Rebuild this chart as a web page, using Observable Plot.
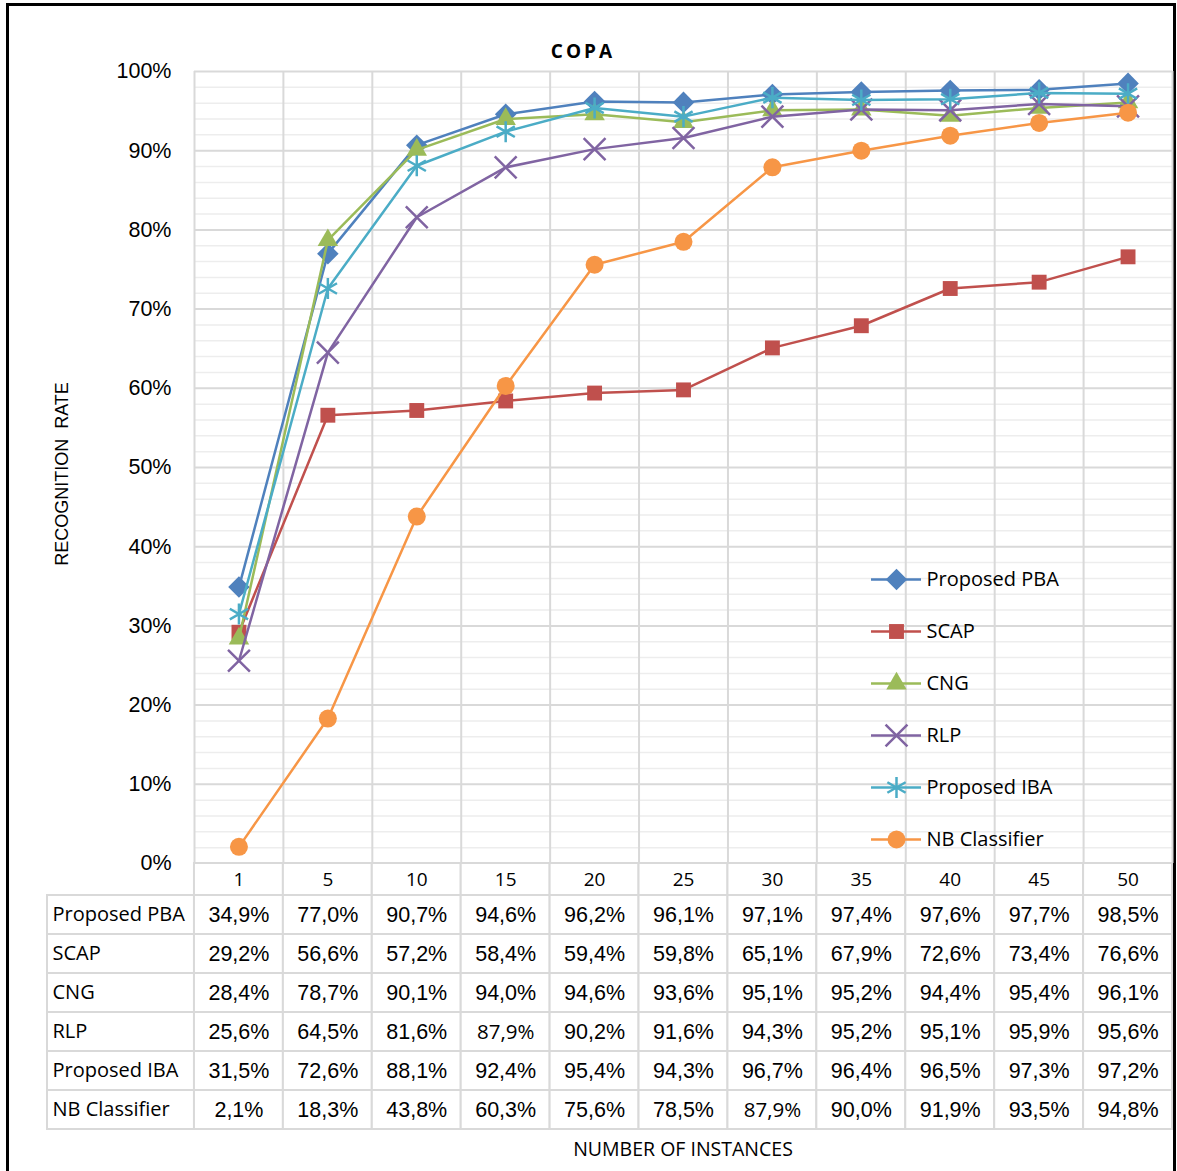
<!DOCTYPE html>
<html>
<head>
<meta charset="utf-8">
<script src="https://cdn.jsdelivr.net/npm/d3@7"></script>
<script src="https://cdn.jsdelivr.net/npm/@observablehq/plot@0.6"></script>
<style>
  html, body { margin: 0; padding: 0; background: #fff; overflow: hidden; }
  #root { position: relative; width: 1177px; height: 1171px; }
  #frame { position: absolute; left: 6px; top: 3px; width: 1164px; height: 1200px; border: 3px solid #000; box-sizing: content-box; }
  .abs { position: absolute; }
  #title { left: 483px; width: 200px; top: 38px; text-align: center; font: bold 19px "Open Sans", sans-serif; letter-spacing: 3px; color: #000; }
  #ytitle { left: 62px; top: 474px; transform: translate(-50%, -50%) rotate(-90deg); white-space: pre; font: 18px "Liberation Sans", Arial, sans-serif; color: #000; }
  #xtitle { left: 433px; width: 500px; top: 1135px; text-align: center; font: 19.5px "Open Sans", sans-serif; color: #000; }
</style>
</head>
<body>
<div id="root">
  <div id="frame"></div>
  <div id="chart" class="abs" style="left:0;top:0"></div>
  <div id="table" class="abs" style="left:0;top:860px"></div>
  <div id="legend" class="abs" style="left:871px;top:560px"></div>
  <div id="title" class="abs">COPA</div>
  <div id="ytitle" class="abs">RECOGNITION  RATE</div>
  <div id="xtitle" class="abs">NUMBER OF INSTANCES</div>
</div>
<script>
// ---- Data ----
const categories = ["1", "5", "10", "15", "20", "25", "30", "35", "40", "45", "50"];
const seriesNames = ["Proposed PBA", "SCAP", "CNG", "RLP", "Proposed IBA", "NB Classifier"];
const proposedPBA  = [34.9, 77.0, 90.7, 94.6, 96.2, 96.1, 97.1, 97.4, 97.6, 97.7, 98.5];
const scap         = [29.2, 56.6, 57.2, 58.4, 59.4, 59.8, 65.1, 67.9, 72.6, 73.4, 76.6];
const cng          = [28.4, 78.7, 90.1, 94.0, 94.6, 93.6, 95.1, 95.2, 94.4, 95.4, 96.1];
const rlp          = [25.6, 64.5, 81.6, 87.9, 90.2, 91.6, 94.3, 95.2, 95.1, 95.9, 95.6];
const proposedIBA  = [31.5, 72.6, 88.1, 92.4, 95.4, 94.3, 96.7, 96.4, 96.5, 97.3, 97.2];
const nbClassifier = [2.1, 18.3, 43.8, 60.3, 75.6, 78.5, 87.9, 90.0, 91.9, 93.5, 94.8];
const yTicks = [0, 0.1, 0.2, 0.3, 0.4, 0.5, 0.6, 0.7, 0.8, 0.9, 1.0];

// ---- Styles ----
const seriesValues = [proposedPBA, scap, cng, rlp, proposedIBA, nbClassifier];
const colors = ["#4F81BD", "#C0504D", "#9BBB59", "#8064A2", "#4BACC6", "#F79646"];
const markers = [
  {symbol: "square", r: 8.6, rotate: 45, filled: true},
  {symbol: "square", r: 8.4, rotate: 0, filled: true},
  {symbol: "triangle", r: 7.6, rotate: 0, filled: true},
  {symbol: "times", r: 10, rotate: 0, filled: false},
  {symbol: "asterisk", r: 10, rotate: 0, filled: false},
  {symbol: "circle", r: 9, rotate: 0, filled: true}
];
const smallCells = new Set(["RLP|15", "NB Classifier|30"]);

const rows = [];
seriesNames.forEach((s, si) => {
  seriesValues[si].forEach((v, i) => rows.push({series: s, si, cat: categories[i], i, v}));
});

const numFont = '"Liberation Sans", Arial, sans-serif';
const lblFont = '"Open Sans", sans-serif';
const fmt = v => v.toFixed(1).replace(".", ",") + "%";

// ---- Chart ----
const minor = d3.range(0, 51).map(k => k / 50).filter((d, k) => k % 5 !== 0);
const boundaries = d3.range(categories.length + 1).map(i => i - 0.5);

const marks = [
  Plot.ruleY(minor, {stroke: "#ededed", strokeWidth: 1.5}),
  Plot.ruleY(yTicks, {stroke: "#d9d9d9", strokeWidth: 2}),
  Plot.ruleX(boundaries, {stroke: "#d9d9d9", strokeWidth: 2})
];
seriesNames.forEach((s, si) => {
  const data = rows.filter(d => d.si === si);
  const m = markers[si];
  marks.push(Plot.line(data, {x: "i", y: d => d.v / 100, stroke: colors[si], strokeWidth: 2.5}));
  marks.push(Plot.dot(data, {
    x: "i", y: d => d.v / 100, symbol: () => m.symbol, r: m.r, rotate: m.rotate,
    fill: m.filled ? colors[si] : "none",
    stroke: m.filled ? "none" : colors[si],
    strokeWidth: m.filled ? 0 : 2.5
  }));
});

const chart = Plot.plot({
  width: 1177, height: 866,
  marginTop: 71, marginBottom: 3, marginLeft: 194, marginRight: 5,
  style: {fontFamily: numFont, fontSize: "21.5px", color: "#000", background: "transparent", overflow: "visible"},
  x: {domain: [-0.5, categories.length - 0.5], axis: null},
  y: {domain: [0, 1], ticks: yTicks, tickFormat: d3.format(".0%"), tickSize: 0, tickPadding: 23, label: null},
  symbol: {type: "identity"},
  marks
});
document.getElementById("chart").appendChild(chart);

// ---- Data table ----
const labelUnits = 1.653;
const hdr = 32 / 39;
const cellRows = rows.map(d => ({...d}));
const headerCells = categories.map((c, i) => ({c, i}));
const labelCells = seriesNames.map((s, si) => ({s, si}));

const table = Plot.plot({
  width: 1177, height: 272,
  marginTop: 3, marginBottom: 3, marginLeft: 47, marginRight: 5,
  style: {fontFamily: numFont, color: "#000", background: "transparent", overflow: "visible"},
  x: {domain: [-0.5 - labelUnits, categories.length - 0.5], axis: null},
  y: {domain: [-hdr, seriesNames.length], range: [3, 269], axis: null},
  marks: [
    Plot.rect(headerCells, {x1: d => d.i - 0.5, x2: d => d.i + 0.5, y1: -hdr, y2: 0, fill: "white", stroke: "#d9d9d9", strokeWidth: 2}),
    Plot.rect(labelCells, {x1: -0.5 - labelUnits, x2: -0.5, y1: d => d.si, y2: d => d.si + 1, fill: "white", stroke: "#d9d9d9", strokeWidth: 2}),
    Plot.rect(cellRows, {x1: d => d.i - 0.5, x2: d => d.i + 0.5, y1: d => d.si, y2: d => d.si + 1, fill: "white", stroke: "#d9d9d9", strokeWidth: 2}),
    Plot.text(headerCells, {x: "i", y: -hdr / 2, text: "c", fontFamily: lblFont, fontSize: 19, fill: "#000"}),
    Plot.text(labelCells, {x: -0.5 - labelUnits, y: d => d.si + 0.5, text: "s", textAnchor: "start", dx: 5, fontFamily: lblFont, fontSize: 20, fill: "#000"}),
    Plot.text(cellRows.filter(d => !smallCells.has(d.series + "|" + d.cat)), {x: "i", y: d => d.si + 0.5, text: d => fmt(d.v), fontFamily: numFont, fontSize: 21.5, fill: "#000"}),
    Plot.text(cellRows.filter(d => smallCells.has(d.series + "|" + d.cat)), {x: "i", y: d => d.si + 0.5, text: d => fmt(d.v), fontFamily: lblFont, fontSize: 20.5, fill: "#000"})
  ]
});
document.getElementById("table").appendChild(table);

// ---- Legend ----
const legendMarks = [];
seriesNames.forEach((s, si) => {
  const m = markers[si];
  legendMarks.push(Plot.tickY([s], {y: d => d, stroke: colors[si], strokeWidth: 2.5}));
  legendMarks.push(Plot.dot([s], {
    y: d => d, frameAnchor: "middle", symbol: () => m.symbol, r: m.r, rotate: m.rotate,
    fill: m.filled ? colors[si] : "none",
    stroke: m.filled ? "none" : colors[si],
    strokeWidth: m.filled ? 0 : 2.5
  }));
});
legendMarks.push(Plot.text(seriesNames, {y: d => d, text: d => d, frameAnchor: "right", textAnchor: "start", dx: 5, fontFamily: lblFont, fontSize: 20, fill: "#000"}));

const legend = Plot.plot({
  width: 250, height: 297,
  marginTop: 18, marginBottom: 18, marginLeft: 0, marginRight: 200,
  style: {background: "transparent", overflow: "visible"},
  x: {axis: null},
  y: {type: "point", domain: seriesNames, padding: 0, axis: null},
  symbol: {type: "identity"},
  marks: legendMarks
});
document.getElementById("legend").appendChild(legend);
</script>
</body>
</html>
